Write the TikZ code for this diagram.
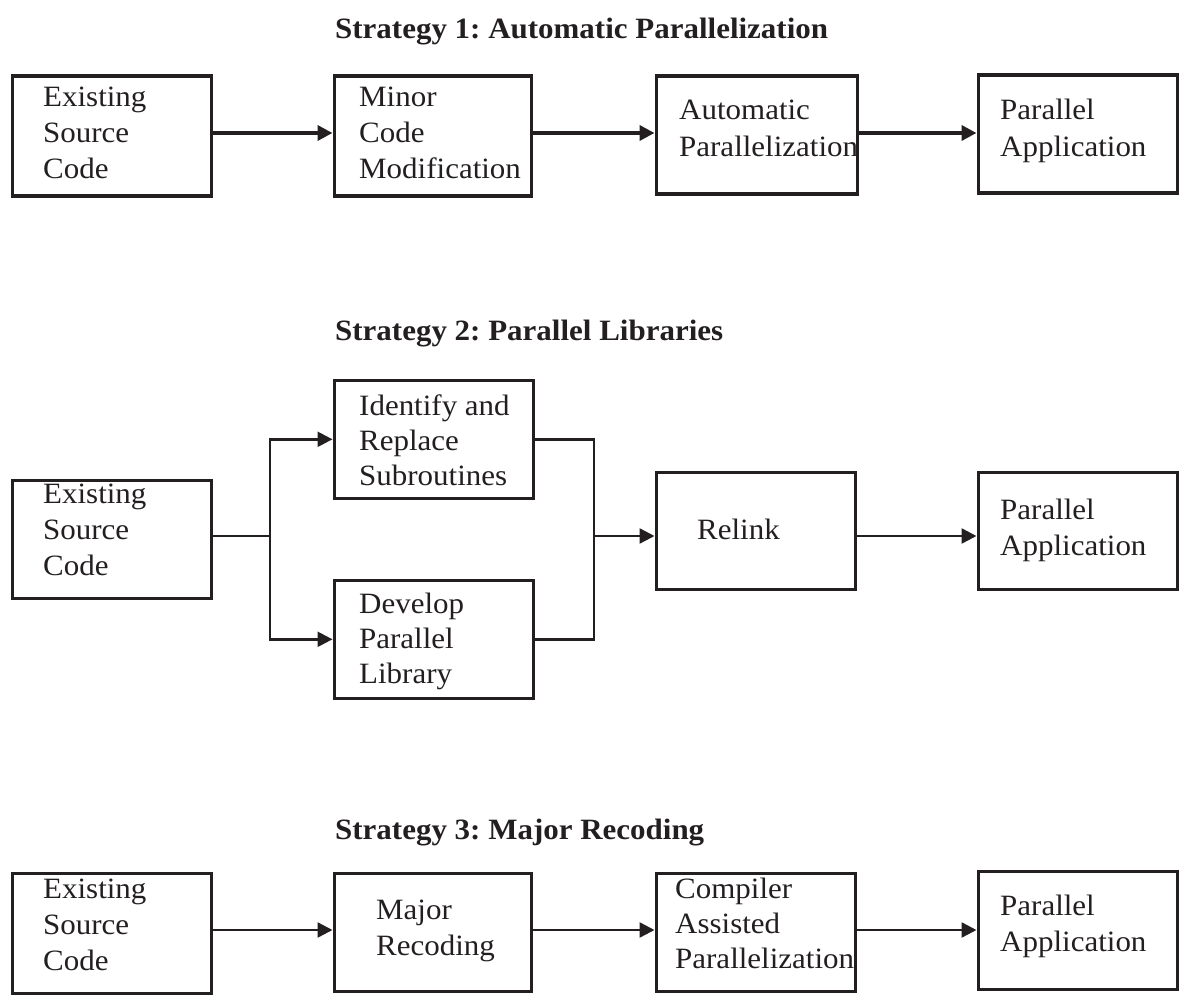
\documentclass[tikz,border=0pt]{standalone}
\usepackage{fontspec}
\setmainfont{Liberation Serif}[FakeStretch=1.05]
\usetikzlibrary{arrows.meta}
\definecolor{ink}{HTML}{231F20}
\frenchspacing
\begin{document}
\begin{tikzpicture}[x=1pt,y=-1pt,
  box/.style={draw=ink,line width=3.6pt,rectangle,inner sep=0pt,anchor=north west},
  txt/.style={anchor=base west,inner sep=0pt,text=ink,font=\fontsize{29.5}{36}\selectfont},
  ttl/.style={anchor=base west,inner sep=0pt,text=ink,font=\fontsize{29.5}{36}\selectfont\bfseries},
  thick arrow/.style={draw=ink,line width=3.6pt,-{Triangle[length=15pt,width=15pt]}},
  thin arrow/.style={draw=ink,line width=2.4pt,-{Triangle[length=15pt,width=15pt]}},
  thin line/.style={draw=ink,line width=2.4pt}]
\useasboundingbox (0,0) rectangle (1191,1003);
% ---------- Strategy 1
\node[ttl] (title1) at (335,39) {Strategy 1: Automatic Parallelization};
\node[box,minimum width=199pt,minimum height=120pt] (a1) at (10.5,74.5) {};
\node[box,minimum width=197pt,minimum height=120pt] (b1) at (332.5,74.5) {};
\node[box,minimum width=201pt,minimum height=118pt] (c1) at (654.5,74.5) {};
\node[box,minimum width=199pt,minimum height=118pt] (d1) at (976.5,73.5) {};
\foreach \t [count=\i from 0] in {Existing,Source,Code}
  \node[txt] (a1t\i) at (43,107+36*\i) {\t};
\foreach \t [count=\i from 0] in {Minor,Code,Modification}
  \node[txt] (b1t\i) at (359,107+36*\i) {\t};
\foreach \t [count=\i from 0] in {Automatic,Parallelization}
  \node[txt] (c1t\i) at (679,120+37*\i) {\t};
\foreach \t [count=\i from 0] in {Parallel,Application}
  \node[txt] (d1t\i) at (1000,120+37*\i) {\t};
\coordinate (r1) at (0,133);
\draw[thick arrow] (a1.east |- r1) -- (b1.west |- r1);
\draw[thick arrow] (b1.east |- r1) -- (c1.west |- r1);
\draw[thick arrow] (c1.east |- r1) -- (d1.west |- r1);
% ---------- Strategy 2
\node[ttl] (title2) at (335,340) {Strategy 2: Parallel Libraries};
\node[box,minimum width=199pt,minimum height=118pt] (a2) at (10.5,478.5) {};
\node[box,minimum width=199pt,minimum height=118pt] (b2) at (332.5,378.5) {};
\node[box,minimum width=199pt,minimum height=118pt] (c2) at (332.5,578.5) {};
\node[box,minimum width=199pt,minimum height=117pt] (d2) at (654.5,470.5) {};
\node[box,minimum width=199pt,minimum height=117pt] (e2) at (976.5,470.5) {};
\foreach \t [count=\i from 0] in {Existing,Source,Code}
  \node[txt] (a2t\i) at (43,503+36*\i) {\t};
\foreach \t [count=\i from 0] in {Identify and,Replace,Subroutines}
  \node[txt] (b2t\i) at (359,415+35*\i) {\t};
\foreach \t [count=\i from 0] in {Develop,Parallel,Library}
  \node[txt] (c2t\i) at (359,613+35*\i) {\t};
\node[txt] (d2t0) at (697,539) {Relink};
\foreach \t [count=\i from 0] in {Parallel,Application}
  \node[txt] (e2t\i) at (1000,519+36*\i) {\t};
\coordinate (s2) at (270,536);
\coordinate (m2) at (594,536);
\draw[thin line] (a2.east |- s2) -- (s2);
\draw[thin arrow] (s2) |- (b2.west);
\draw[thin arrow] (s2) |- (c2.west);
\draw[thin line] (b2.east) -| (m2);
\draw[thin line] (c2.east) -| (m2);
\draw[thin arrow] (m2) -- (m2 -| d2.west);
\draw[thin arrow] (m2 -| d2.east) -- (m2 -| e2.west);
% ---------- Strategy 3
\node[ttl] (title3) at (335,839) {Strategy 3: Major Recoding};
\node[box,minimum width=199pt,minimum height=120pt] (a3) at (10.5,871.5) {};
\node[box,minimum width=197pt,minimum height=118pt] (b3) at (332.5,871.5) {};
\node[box,minimum width=199pt,minimum height=118pt] (c3) at (654.5,871.5) {};
\node[box,minimum width=199pt,minimum height=118pt] (d3) at (976.5,869.5) {};
\foreach \t [count=\i from 0] in {Existing,Source,Code}
  \node[txt] (a3t\i) at (43,898+36*\i) {\t};
\foreach \t [count=\i from 0] in {Major,Recoding}
  \node[txt] (b3t\i) at (376,919+36*\i) {\t};
\foreach \t [count=\i from 0] in {Compiler,Assisted,Parallelization}
  \node[txt] (c3t\i) at (675,898+35*\i) {\t};
\foreach \t [count=\i from 0] in {Parallel,Application}
  \node[txt] (d3t\i) at (1000,915+36*\i) {\t};
\coordinate (r3) at (0,930);
\draw[thin arrow] (a3.east |- r3) -- (b3.west |- r3);
\draw[thin arrow] (b3.east |- r3) -- (c3.west |- r3);
\draw[thin arrow] (c3.east |- r3) -- (d3.west |- r3);
\end{tikzpicture}
\end{document}
